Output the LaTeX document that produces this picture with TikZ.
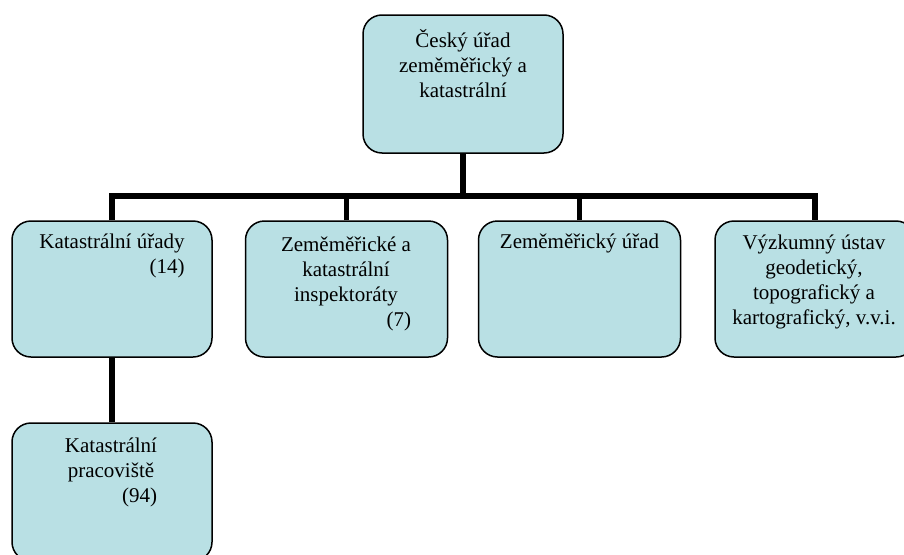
\documentclass[tikz,border=0pt]{standalone}
\usepackage{fontspec}
\setmainfont{Liberation Serif}
\definecolor{boxfill}{RGB}{185,224,228}
\tikzset{
  orgbox/.style={draw=black, line width=1.5pt, fill=boxfill, rounded corners=19pt, minimum width=200pt, minimum height=137pt, inner sep=0pt},
  conn/.style={draw=black, line width=5.5pt},
  lbl/.style={anchor=base, inner sep=0pt, font=\fontsize{21}{25}\selectfont}
}
\begin{document}
\begin{tikzpicture}[x=1pt, y=-1pt]
\useasboundingbox (0,0) rectangle (904,554);
\clip (0,0) rectangle (904,554);
% boxes
\node[orgbox, minimum height=138pt] (top) at (463,84) {};
\node[orgbox, minimum height=136pt] (b1) at (112,289) {};
\node[orgbox, minimum width=202pt, minimum height=136pt] (b2) at (346.5,289) {};
\node[orgbox, minimum width=202pt, minimum height=136pt] (b3) at (579.5,289) {};
\node[orgbox, minimum height=136pt] (b4) at (815,289) {};
\node[orgbox, minimum height=138pt] (b5) at (112,492) {};
% connectors
\coordinate (bus) at (463,196);
\draw[conn] (top.south) -- (bus);
\draw[conn] (b1.north) |- (bus) -| (b4.north);
\draw[conn] (b2.north) -- (b2.north |- bus);
\draw[conn] (b3.north) -- (b3.north |- bus);
\draw[conn] (b1.south) -- (b5.north);
% texts
\node[lbl] (ttop) at (463,47) {\begin{tabular}[t]{@{}c@{}}Český úřad\\zeměměřický a\\katastrální\end{tabular}};
\node[lbl] (t1) at (112,248) {\begin{tabular}[t]{@{}r@{}}Katastrální úřady\\(14)\end{tabular}};
\node[lbl] (t2) at (346,251) {\begin{tabular}[t]{@{}c@{}}Zeměměřické a\\katastrální\\inspektoráty\\\hfill(7)\end{tabular}};
\node[lbl] (t3) at (579.5,248) {Zeměměřický úřad};
\node[lbl] (t4) at (814,249) {\begin{tabular}[t]{@{}c@{}}Výzkumný ústav\\geodetický,\\topografický a\\kartografický, v.v.i.\end{tabular}};
\node[lbl] (t5) at (111,452) {\begin{tabular}[t]{@{}c@{}}Katastrální\\pracoviště\\\hfill(94)\end{tabular}};
\end{tikzpicture}
\end{document}
